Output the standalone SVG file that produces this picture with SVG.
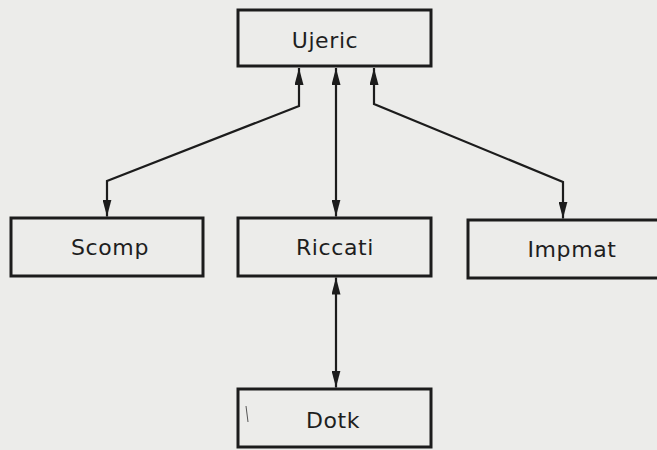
<svg xmlns="http://www.w3.org/2000/svg" width="657" height="450" viewBox="0 0 657 450">
  <style>
    .box { fill: #ececea; stroke: #1c1c1c; stroke-width: 3; }
    .label { font-family: "DejaVu Sans", "Liberation Sans", sans-serif; font-size: 22px; fill: #1e1e1e; text-anchor: middle; letter-spacing: 0.6px; }
    .link { fill: none; stroke: #1c1c1c; stroke-width: 2.2; marker-start: url(#head); marker-end: url(#head); }
  </style>
  <defs>
    <marker id="head" viewBox="0 0 17 9" refX="17" refY="4.5" markerWidth="17" markerHeight="9" markerUnits="userSpaceOnUse" orient="auto-start-reverse">
      <path d="M0,0 L17,4.5 L0,9 Z" fill="#1c1c1c"/>
    </marker>
  </defs>

  <rect width="657" height="450" fill="#ececea"/>

  <g id="connectors">
    <path class="link" d="M299,68 V106 L107,181 V216.5"/>
    <path class="link" d="M336,68 V216.5"/>
    <path class="link" d="M374,68 V104 L563,182 V218.5"/>
    <path class="link" d="M336,277.5 V387.5"/>
  </g>

  <g id="ujeric">
    <rect class="box" x="238" y="10" width="193" height="56"/>
    <text class="label" x="325" y="48">Ujeric</text>
  </g>

  <g id="scomp">
    <rect class="box" x="11" y="218" width="192" height="58"/>
    <text class="label" x="110" y="255">Scomp</text>
  </g>

  <g id="riccati">
    <rect class="box" x="238" y="218" width="193" height="58"/>
    <text class="label" x="335" y="255">Riccati</text>
  </g>

  <g id="impmat">
    <rect class="box" x="468" y="220" width="194" height="58"/>
    <text class="label" x="572" y="257">Impmat</text>
  </g>

  <g id="dotk">
    <rect class="box" x="238" y="389" width="193" height="58"/>
    <line x1="246" y1="406" x2="248" y2="422" stroke="#555" stroke-width="1"/>
    <text class="label" x="333" y="428">Dotk</text>
  </g>
</svg>
